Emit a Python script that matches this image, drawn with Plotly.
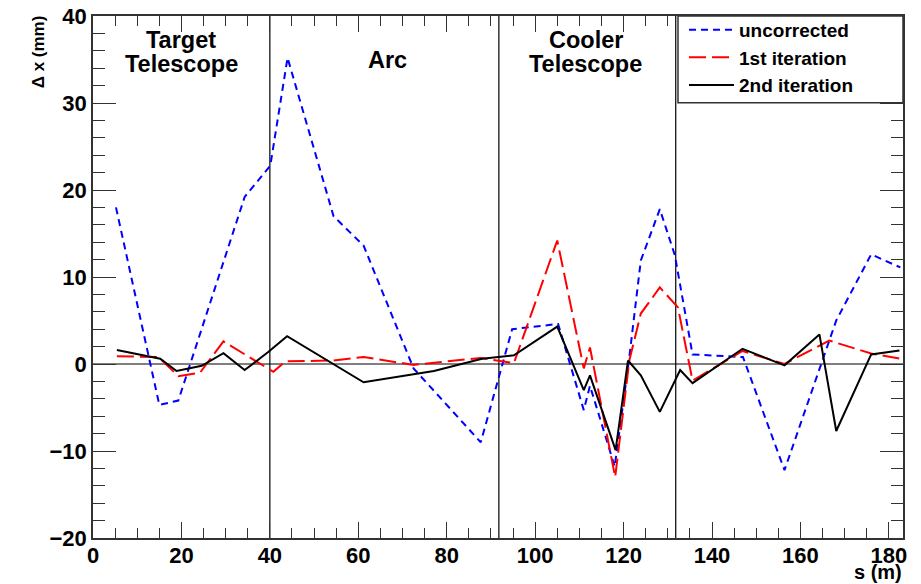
import plotly.graph_objects as go

# Orbit deviation along the ring, s in metres, dx in millimetres
s_uncorr = [5.2, 15.0, 19.3, 34.3, 40.1, 44.0, 54.4, 61.2, 72.5, 87.7, 94.8, 105.2,
            111.0, 112.4, 118.0, 121.3, 123.9, 128.2, 131.6, 135.6, 147.0, 156.4,
            168.1, 176.0, 182.6]
dx_uncorr = [18.0, -4.7, -4.2, 19.2, 22.8, 35.2, 17.0, 13.6, -0.5, -9.0, 4.0, 4.6,
             -5.3, -2.5, -11.8, 0.8, 11.9, 17.8, 12.5, 1.1, 0.8, -12.2,
             5.0, 12.6, 11.1]

s_iter1 = [5.4, 14.8, 19.3, 24.2, 29.5, 40.8, 43.5, 54.4, 61.2, 72.5, 87.7, 95.2,
           105.0, 111.0, 112.4, 118.1, 121.3, 123.9, 128.2, 132.3, 135.6, 146.9,
           156.4, 166.5, 176.0, 182.6]
dx_iter1 = [0.9, 0.8, -1.4, -1.0, 2.6, -0.9, 0.3, 0.4, 0.8, -0.1, 0.7, 0.1,
            14.2, -0.5, 1.9, -13.0, 0.4, 5.8, 8.8, 6.5, -1.9, 1.5,
            0.0, 2.7, 1.2, 0.6]

s_iter2 = [5.4, 15.2, 18.9, 24.6, 29.5, 34.3, 39.7, 43.9, 61.2, 77.1, 88.0, 95.2,
           105.0, 111.0, 112.4, 118.2, 121.0, 123.9, 128.2, 132.8, 135.6, 146.9,
           156.4, 164.3, 168.1, 176.0, 182.4]
dx_iter2 = [1.6, 0.6, -0.8, -0.2, 1.25, -0.7, 1.4, 3.2, -2.1, -0.8, 0.6, 1.0,
            4.3, -3.0, -1.3, -9.9, 0.4, -1.3, -5.5, -0.7, -2.2, 1.75,
            -0.15, 3.4, -7.7, 1.1, 1.55]

# Section boundaries and section names (one entry per text line)
section_edges = [40.0, 91.8, 131.8]
section_lines = ["Target", "Telescope", "Arc", "Cooler", "Telescope"]
section_line_s = [20.0, 20.0, 66.5, 111.4, 111.4]
section_line_y = [37.2, 34.5, 35.0, 37.2, 34.5]

x_ticks = [0, 20, 40, 60, 80, 100, 120, 140, 160, 180]
y_ticks = [-20, -10, 0, 10, 20, 30, 40]

FONT = "Liberation Sans, Arial, Helvetica, sans-serif"
X_MAX = 183.2

fig = go.Figure()
fig.add_trace(go.Scatter(x=s_uncorr, y=dx_uncorr, mode="lines", name="uncorrected",
                         line=dict(color="#0000ff", width=2, dash="7px,5px")))
fig.add_trace(go.Scatter(x=s_iter1, y=dx_iter1, mode="lines", name="1st iteration",
                         line=dict(color="#ff0000", width=2, dash="17px,6px")))
fig.add_trace(go.Scatter(x=s_iter2, y=dx_iter2, mode="lines", name="2nd iteration",
                         line=dict(color="#000000", width=2)))

# zero line and section boundaries
fig.add_hline(y=0, line=dict(color="black", width=1), layer="below")
for e in section_edges:
    fig.add_vline(x=e, line=dict(color="black", width=1.2), layer="below")

for txt, xs, ys in zip(section_lines, section_line_s, section_line_y):
    fig.add_annotation(x=xs, y=ys, text=txt, showarrow=False, xanchor="center",
                       yanchor="middle", borderpad=0,
                       font=dict(family=FONT, size=23.5, color="black", weight="bold"))

# legend frame
fig.add_shape(type="rect", xref="paper", yref="paper",
              x0=(678 - 93) / 810, x1=1.0, y0=(538 - 102) / 523, y1=1.0,
              fillcolor="white", line=dict(color="#333333", width=1.5), layer="above")

# axis titles
fig.add_annotation(xref="paper", yref="paper", x=1.0, y=-46 / 523, text="s (m)",
                   showarrow=False, xanchor="right", yanchor="bottom", borderpad=0,
                   font=dict(family=FONT, size=20, color="black", weight="bold"))
fig.add_annotation(xref="paper", yref="paper", x=-0.068, y=1.006, text="Δ x (mm)",
                   showarrow=False, xanchor="center", yanchor="top", textangle=-90,
                   font=dict(family=FONT, size=17, color="black", weight="bold"))

axis_common = dict(
    showgrid=False, zeroline=False, showline=True, linecolor="#333333", linewidth=1.5,
    mirror="allticks", ticks="inside", tickcolor="#333333", tickwidth=1.2,
    automargin=False,
    tickfont=dict(family=FONT, size=22, color="black", weight="bold"),
)

fig.update_xaxes(range=[0, X_MAX], tickvals=x_ticks, ticklen=16, ticklabelstandoff=-3,
                 minor=dict(ticks="inside", dtick=5, ticklen=10, tickcolor="#333333"),
                 **axis_common)
fig.update_yaxes(range=[-20, 40], tickvals=y_ticks, ticklen=23,
                 minor=dict(ticks="inside", dtick=2, ticklen=12, tickcolor="#333333"),
                 **axis_common)

fig.update_layout(
    width=921, height=584,
    margin=dict(l=93, r=18, t=15, b=46),
    plot_bgcolor="white", paper_bgcolor="white",
    showlegend=True,
    legend=dict(x=(684 - 93) / 810, y=1.008, xanchor="left", yanchor="top",
                bgcolor="rgba(0,0,0,0)", borderwidth=0, itemwidth=45,
                font=dict(family=FONT, size=19, color="black", weight="bold"),
                tracegroupgap=0),
)

fig.write_html("out.html")
